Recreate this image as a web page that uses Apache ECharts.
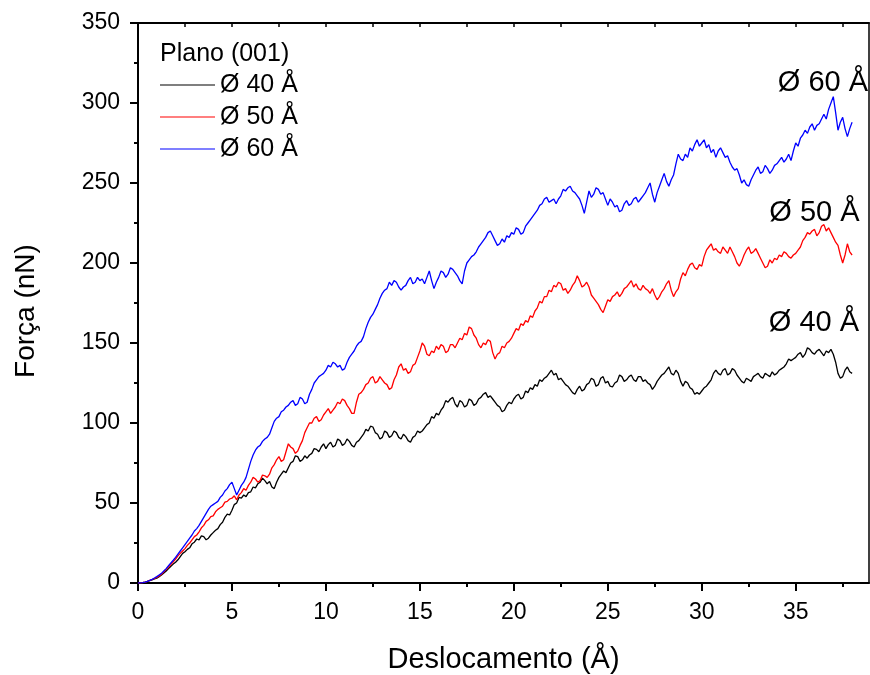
<!DOCTYPE html>
<html>
<head>
<meta charset="utf-8">
<script src="https://cdn.jsdelivr.net/npm/echarts@6/dist/echarts.min.js"></script>
<style>
  html, body { margin: 0; padding: 0; background: #fff; }
  #chart { width: 870px; height: 675px; }
</style>
</head>
<body>
<div id="chart"></div>
<script>
// deslocamento (Å)
const deslocamento = [
  0, 0.125, 0.25, 0.375, 0.5, 0.625, 0.75, 0.875,
  1, 1.125, 1.25, 1.375, 1.5, 1.625, 1.75, 1.875,
  2, 2.125, 2.25, 2.375, 2.5, 2.625, 2.75, 2.875,
  3, 3.125, 3.25, 3.375, 3.5, 3.625, 3.75, 3.875,
  4, 4.125, 4.25, 4.375, 4.5, 4.625, 4.75, 4.875,
  5, 5.125, 5.25, 5.375, 5.5, 5.625, 5.75, 5.875,
  6, 6.125, 6.25, 6.375, 6.5, 6.625, 6.75, 6.875,
  7, 7.125, 7.25, 7.375, 7.5, 7.625, 7.75, 7.875,
  8, 8.125, 8.25, 8.375, 8.5, 8.625, 8.75, 8.875,
  9, 9.125, 9.25, 9.375, 9.5, 9.625, 9.75, 9.875,
  10, 10.125, 10.25, 10.375, 10.5, 10.625, 10.75, 10.875,
  11, 11.125, 11.25, 11.375, 11.5, 11.625, 11.75, 11.875,
  12, 12.125, 12.25, 12.375, 12.5, 12.625, 12.75, 12.875,
  13, 13.125, 13.25, 13.375, 13.5, 13.625, 13.75, 13.875,
  14, 14.125, 14.25, 14.375, 14.5, 14.625, 14.75, 14.875,
  15, 15.125, 15.25, 15.375, 15.5, 15.625, 15.75, 15.875,
  16, 16.125, 16.25, 16.375, 16.5, 16.625, 16.75, 16.875,
  17, 17.125, 17.25, 17.375, 17.5, 17.625, 17.75, 17.875,
  18, 18.125, 18.25, 18.375, 18.5, 18.625, 18.75, 18.875,
  19, 19.125, 19.25, 19.375, 19.5, 19.625, 19.75, 19.875,
  20, 20.125, 20.25, 20.375, 20.5, 20.625, 20.75, 20.875,
  21, 21.125, 21.25, 21.375, 21.5, 21.625, 21.75, 21.875,
  22, 22.125, 22.25, 22.375, 22.5, 22.625, 22.75, 22.875,
  23, 23.125, 23.25, 23.375, 23.5, 23.625, 23.75, 23.875,
  24, 24.125, 24.25, 24.375, 24.5, 24.625, 24.75, 24.875,
  25, 25.125, 25.25, 25.375, 25.5, 25.625, 25.75, 25.875,
  26, 26.125, 26.25, 26.375, 26.5, 26.625, 26.75, 26.875,
  27, 27.125, 27.25, 27.375, 27.5, 27.625, 27.75, 27.875,
  28, 28.125, 28.25, 28.375, 28.5, 28.625, 28.75, 28.875,
  29, 29.125, 29.25, 29.375, 29.5, 29.625, 29.75, 29.875,
  30, 30.125, 30.25, 30.375, 30.5, 30.625, 30.75, 30.875,
  31, 31.125, 31.25, 31.375, 31.5, 31.625, 31.75, 31.875,
  32, 32.125, 32.25, 32.375, 32.5, 32.625, 32.75, 32.875,
  33, 33.125, 33.25, 33.375, 33.5, 33.625, 33.75, 33.875,
  34, 34.125, 34.25, 34.375, 34.5, 34.625, 34.75, 34.875,
  35, 35.125, 35.25, 35.375, 35.5, 35.625, 35.75, 35.875,
  36, 36.125, 36.25, 36.375, 36.5, 36.625, 36.75, 36.875,
  37, 37.125, 37.25, 37.375, 37.5, 37.625, 37.75, 37.875,
  38
];

// força (nN), Ø 40 Å
const forca40 = [
  0, 0.1, 0.3, 0.6, 1, 1.5, 2, 2.5,
  3, 4, 5, 6.2, 7.5, 9, 10.5, 11.8,
  13, 14.5, 16.5, 18.5, 19.5, 21, 22, 24.5,
  25.5, 27.5, 27, 29.5, 29, 27, 28, 30,
  31.5, 33, 34, 36.5, 38, 41, 43, 42.5,
  45.5, 49, 50, 53.5, 53, 55, 54, 56.5,
  57, 60, 59.5, 62, 63, 65.5, 64, 62,
  63.5, 60, 59, 63, 66, 68, 70, 69,
  72, 75, 76, 79.5, 79, 76, 77, 79.5,
  78, 80, 81, 84, 83.5, 82, 85, 87,
  84, 86.5, 88, 85, 86, 90, 89, 86,
  87, 90, 88.5, 86, 85, 88, 89, 91,
  93, 96, 95, 98, 97.5, 94, 93, 90,
  91, 95, 94, 91, 92, 95, 94, 91,
  90, 93, 91.5, 89, 88, 91, 92, 95,
  94, 95, 97, 99, 100, 104, 103, 106,
  105, 108, 110, 114, 113, 115, 116, 112,
  110, 114, 113, 110, 111, 115, 114, 111,
  112, 115, 116, 118, 119, 116, 117, 115,
  113, 111, 110, 107, 108, 111, 113, 112,
  115, 117, 118, 115, 116, 120, 119, 122,
  121, 124, 123, 127, 126, 128, 129, 131,
  133, 130, 131, 127, 128, 126, 124, 123,
  121, 119, 118, 121, 123, 120, 121, 124,
  125, 128, 127, 123, 124, 128, 129, 125,
  126, 123, 122.5, 125, 126, 130, 129, 126,
  127, 129, 130, 127, 126, 129, 129, 126,
  127, 125, 124, 121, 123, 126, 128, 130,
  131, 133, 135, 131, 130, 133, 131, 126,
  123, 126, 125, 122, 121, 118, 119, 118,
  120, 122, 123, 125, 127, 131, 133, 131,
  130, 133, 134, 130, 131, 134, 133, 130,
  128, 126, 125, 128, 127, 126, 129, 130,
  131, 129, 128, 131, 130, 129, 132, 130,
  131, 133, 134, 135, 137, 140, 139, 140,
  141, 143, 144, 141, 143, 147, 146, 144,
  143, 145, 146, 144, 142, 145, 144, 146,
  143, 138, 131, 128, 129, 133, 135, 132,
  131
];

// força (nN), Ø 50 Å
const forca50 = [
  0, 0.1, 0.3, 0.6, 1, 1.6, 2.2, 2.8,
  3.5, 4.4, 5.5, 7, 8.5, 10, 11.5, 13.2,
  15, 17, 18.5, 20, 21.5, 23.5, 25, 27,
  29, 30, 32, 34.5, 36, 38.5, 39.5, 41.5,
  42, 44.5, 46, 47, 48, 50.5, 51, 52.5,
  53, 54.5, 52, 55, 56.5, 59, 58, 61,
  63, 66, 65, 63, 64, 67.5, 67, 66,
  68, 72, 74, 77, 79, 76, 77, 82,
  87, 85, 84, 81, 82.5, 86, 89, 94,
  97, 100, 100, 103, 104, 101, 102, 105,
  107, 109, 106, 108, 110, 113, 112, 115,
  114, 111, 109, 106, 106, 113, 118, 119,
  121, 124, 125, 128, 129, 125, 126, 129,
  127, 125, 124, 121, 122, 127, 130, 135,
  137, 133, 134, 131, 132, 136, 137, 141,
  145, 150, 148, 143, 142, 145, 144, 148,
  146, 149, 148, 144, 145, 149, 149, 147,
  150, 153, 152, 156, 155, 160, 159, 155,
  153, 149, 147, 150, 149, 152, 151, 144,
  140, 143, 144, 148, 147, 150, 151, 153,
  156, 159, 158, 162, 161, 164, 163, 167,
  166, 170, 172, 176, 175, 179, 179, 183,
  182, 186, 185, 188, 187, 183, 184, 181,
  183, 186, 188, 192, 189, 185, 186, 188,
  185, 180, 178, 176, 174, 171, 169, 173,
  177, 176, 179, 180, 182, 179, 181, 184,
  185, 187, 189, 185, 187, 184, 183, 186,
  184, 183, 181, 184, 180, 177, 179, 182,
  184, 187, 189, 183, 179, 182, 184, 190,
  194, 192, 196, 199, 200, 197, 196, 199,
  198, 204, 208, 210, 212, 208, 209, 207,
  206, 210, 208, 206, 210, 207, 204, 200,
  198, 201, 205, 208, 210, 206, 207, 209,
  206, 203, 200, 197, 198, 202, 200, 203,
  202, 205, 204, 207, 206, 204, 203, 205,
  206, 208, 210, 214, 216, 219, 218, 220,
  221, 217, 219, 223, 224, 220, 222, 219,
  216, 213, 211, 205, 200, 205, 212, 207,
  205
];

// força (nN), Ø 60 Å
const forca60 = [
  0, 0.1, 0.3, 0.6, 1, 1.6, 2.3, 3.1,
  4, 5, 6, 7.5, 9, 10.8, 12.5, 14.2,
  16, 18, 20, 22, 24, 26, 28, 30,
  32.5, 34, 36, 38.5, 41, 43.5, 46, 48,
  49, 50, 51, 53.5, 55, 57.5, 59, 61.5,
  63, 59, 55, 58, 61, 63, 66, 71,
  76, 80, 83, 85, 86, 88.5, 90, 91,
  93, 97, 101, 103, 104, 107, 108, 110,
  111, 113, 114, 111, 112, 116, 115, 112,
  113, 118, 121, 125, 127, 129, 130, 131,
  133, 136, 135, 138, 137, 135, 136, 133,
  134, 138, 141, 143, 145, 148, 150, 151,
  154, 159, 163, 166, 168, 171, 174, 178,
  181, 183, 184, 188, 186, 189, 188, 185,
  183, 185, 186, 189, 191, 187, 188, 191,
  189, 190, 187, 191, 195, 189, 184, 188,
  191, 195, 194, 191, 193, 197, 196, 194,
  192, 189, 187, 195, 200, 202, 204, 205,
  207, 210, 212, 214, 216, 219, 220, 217,
  214, 211, 212, 215, 213, 217, 216, 219,
  218, 222, 221, 218, 219, 223, 225, 227,
  229, 231, 233, 236, 237, 240, 241, 238,
  239, 240, 237, 240, 242, 246, 245, 247,
  248, 245, 244, 242, 240, 236, 231, 238,
  245, 241, 243, 247, 246, 243, 244, 240,
  236, 240, 238, 235, 236, 232, 233, 237,
  239, 236, 237, 240, 241, 238, 240, 242,
  244, 247, 250, 243, 238, 244, 248, 252,
  256, 251, 248, 252, 255, 262, 268, 265,
  264, 268, 266, 272, 270, 274, 277, 273,
  275, 277, 272, 274, 269, 271, 266, 270,
  272, 269, 266, 267, 263, 260, 258, 259,
  255, 250, 252, 249, 248, 252, 255, 258,
  260, 256, 257, 261, 259, 256, 258, 261,
  262, 264, 266, 263, 265, 268, 264, 270,
  275, 273, 278, 280, 283, 281, 285, 287,
  283, 286, 287, 290, 293, 290, 296, 300,
  304, 294, 283, 288, 291, 284, 279, 284,
  288
];

const nomes = ['Ø 40 Å', 'Ø 50 Å', 'Ø 60 Å'];
const cores = ['#000000', '#ff0000', '#0000ff'];

const xTicks = [0, 5, 10, 15, 20, 25, 30, 35];
const xMinorTicks = [2.5, 7.5, 12.5, 17.5, 22.5, 27.5, 32.5, 37.5];
const xTopTicks = [2.5, 5, 7.5, 10, 12.5, 15, 17.5, 20, 22.5, 25, 27.5, 30, 32.5, 35, 37.5];

const fonte = '"Liberation Sans", Arial, sans-serif';
const preto = { color: '#000', width: 2 };

const pares = (ys) => ys.map((y, i) => [deslocamento[i], y]);

const chart = echarts.init(document.getElementById('chart'));

const option = {
  animation: false,
  backgroundColor: '#fff',
  grid: { left: 138, right: 1, top: 23, bottom: 92, outerBoundsMode: 'none' },
  xAxis: [
    {
      type: 'value', min: 0, max: 38.9, position: 'bottom',
      name: 'Deslocamento (Å)', nameLocation: 'middle', nameGap: 62,
      nameTextStyle: { fontSize: 29, fontFamily: fonte, color: '#000' },
      axisLine: { show: true, onZero: false, lineStyle: preto },
      axisTick: { show: true, length: 8, customValues: xTicks, lineStyle: preto },
      axisLabel: { customValues: xTicks, fontSize: 23, margin: 18, fontFamily: fonte, color: '#000' },
      splitLine: { show: false }
    },
    {
      type: 'value', min: 0, max: 38.9, position: 'bottom',
      axisLine: { show: false, onZero: false },
      axisTick: { show: true, length: 4, customValues: xMinorTicks, lineStyle: preto },
      axisLabel: { show: false },
      splitLine: { show: false }
    },
    {
      type: 'value', min: 0, max: 38.9, position: 'top',
      axisLine: { show: true, onZero: false, lineStyle: preto },
      axisTick: { show: true, inside: true, length: 4, customValues: xTopTicks, lineStyle: { color: '#000', width: 1.5 } },
      axisLabel: { show: false },
      splitLine: { show: false }
    }
  ],
  yAxis: [
    {
      type: 'value', min: 0, max: 350, interval: 50, position: 'left',
      axisLine: { show: true, onZero: false, lineStyle: preto },
      axisTick: { show: true, length: 8, lineStyle: preto },
      minorTick: { show: true, splitNumber: 2, length: 4, lineStyle: preto },
      axisLabel: { fontSize: 23, margin: 18, fontFamily: fonte, color: '#000' },
      splitLine: { show: false },
      minorSplitLine: { show: false }
    },
    {
      type: 'value', min: 0, max: 350, position: 'right',
      axisLine: { show: true, onZero: false, lineStyle: { color: '#000', width: 1.5 } },
      axisTick: { show: false },
      axisLabel: { show: false },
      splitLine: { show: false }
    }
  ],
  legend: {
    left: 160, top: 72.5, orient: 'vertical', padding: 0,
    icon: 'rect', itemWidth: 55, itemHeight: 1, itemGap: 7,
    textStyle: { fontSize: 25, lineHeight: 25, fontFamily: fonte, color: '#000' },
    data: nomes
  },
  series: [forca40, forca50, forca60].map((ys, k) => ({
    name: nomes[k],
    type: 'line',
    xAxisIndex: 0,
    yAxisIndex: 0,
    data: pares(ys),
    symbol: 'none',
    lineStyle: { color: cores[k], width: 1.3 },
    itemStyle: { color: cores[k] }
  })),
  graphic: [
    { type: 'text', x: 26, y: 311, rotation: Math.PI / 2, style: { text: 'Força (nN)', font: '28px ' + fonte, fill: '#000', textAlign: 'center', textVerticalAlign: 'middle' } },
    { type: 'text', x: 160, y: 54, style: { text: 'Plano (001)', font: '25px ' + fonte, fill: '#000', textVerticalAlign: 'middle' } },
    { type: 'text', x: 823, y: 82.5, style: { text: 'Ø 60 Å', font: '29px ' + fonte, fill: '#000', textAlign: 'center', textVerticalAlign: 'middle' } },
    { type: 'text', x: 814.5, y: 213, style: { text: 'Ø 50 Å', font: '29px ' + fonte, fill: '#000', textAlign: 'center', textVerticalAlign: 'middle' } },
    { type: 'text', x: 814, y: 323, style: { text: 'Ø 40 Å', font: '29px ' + fonte, fill: '#000', textAlign: 'center', textVerticalAlign: 'middle' } }
  ]
};

chart.setOption(option);
</script>
</body>
</html>
